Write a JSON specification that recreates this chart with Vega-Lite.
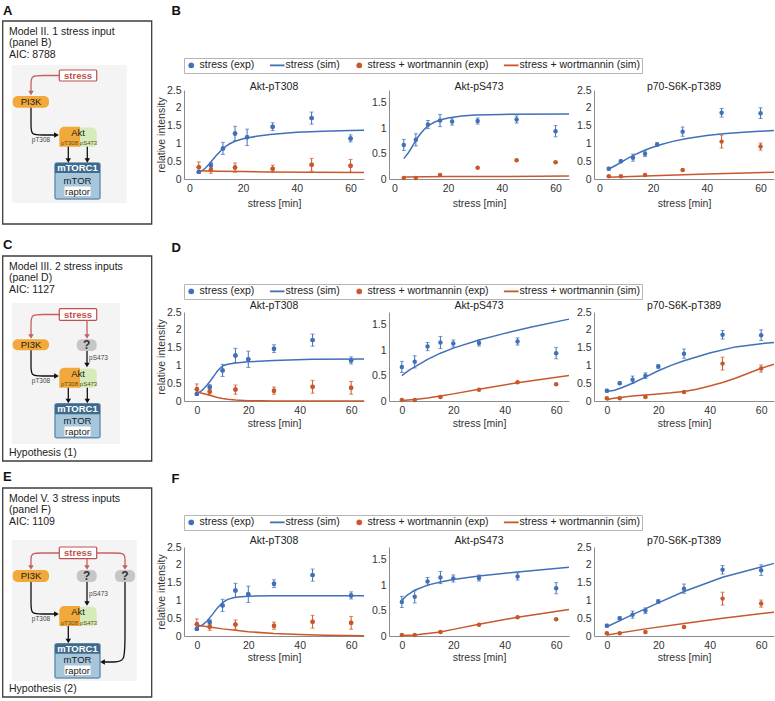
{
"$schema":"https://vega.github.io/schema/vega-lite/v6.json",
"padding":0,
"spacing":3,
"config":{
 "font":"Liberation Sans",
 "view":{"stroke":null},
 "axis":{"labelFont":"Liberation Sans","labelFontSize":10.5,"labelColor":"#333","titleFont":"Liberation Sans","titleFontSize":10.5,"titleFontWeight":"normal","titleColor":"#333","domainColor":"#8c8c8c","ticks":false,"grid":false,"labelFlush":false,"labelOverlap":false},
 "axisX":{"labelPadding":4},
 "axisY":{"labelPadding":3,"titlePadding":0},
 "title":{"font":"Liberation Sans","fontSize":10.5,"fontWeight":"normal","color":"#222","frame":"group","anchor":"middle"},
 "legend":{"title":null,"orient":"none","legendX":0,"legendY":-32,"direction":"horizontal","strokeColor":"#b5b5b5","fillColor":"#ffffff","padding":2,"labelFont":"Liberation Sans","labelFontSize":10.5,"labelColor":"#222","labelOffset":3,"columnPadding":14,"symbolSize":30,"symbolStrokeWidth":0.3,"symbolOpacity":1}
},
"datasets":{
"diag":[
{"k":"anchor","x":0,"y":0,"x2":1,"y2":1},
{"k":"frame","x":2.7,"y":21,"x2":151.7,"y2":224},
{"k":"frame","x":2.7,"y":256,"x2":151.7,"y2":461},
{"k":"frame","x":2.7,"y":488,"x2":151.7,"y2":697},
{"k":"bg","x":11.7,"y":65,"x2":126.7,"y2":203},
{"k":"bg","x":11.7,"y":303,"x2":120,"y2":444},
{"k":"bg","x":11.7,"y":540,"x2":136.7,"y2":681},
{"k":"stress","x":59.3,"y":70,"x2":96.7,"y2":81},
{"k":"stress","x":59.3,"y":308.7,"x2":96.7,"y2":320.3},
{"k":"stress","x":59.3,"y":547,"x2":96.7,"y2":558.7},
{"k":"pi3k","x":12.7,"y":96,"x2":49,"y2":107.7},
{"k":"pi3k","x":12.7,"y":339.3,"x2":49,"y2":350.3},
{"k":"pi3k","x":12.7,"y":570,"x2":49,"y2":582},
{"k":"q","x":76.7,"y":339.3,"x2":96.7,"y2":351},
{"k":"q","x":76.7,"y":570,"x2":96.7,"y2":582},
{"k":"q","x":115,"y":570,"x2":135,"y2":582},
{"k":"aktR","x":79,"y":127.5,"x2":96.7,"y2":146.7},
{"k":"aktR","x":79,"y":368.5,"x2":96.7,"y2":387.7},
{"k":"aktR","x":79,"y":606.8,"x2":96.7,"y2":626},
{"k":"aktL","x":59.3,"y":126.7,"x2":80,"y2":146.7},
{"k":"aktL","x":59.3,"y":367.7,"x2":80,"y2":387.7},
{"k":"aktL","x":59.3,"y":606,"x2":80,"y2":626},
{"k":"mbody","x":55,"y":163,"x2":100,"y2":199},
{"k":"mbody","x":55,"y":403.7,"x2":100,"y2":437.7},
{"k":"mbody","x":55,"y":643.7,"x2":100,"y2":678},
{"k":"mhead","x":55,"y":163,"x2":100,"y2":173},
{"k":"mhead","x":55,"y":403.7,"x2":100,"y2":414.3},
{"k":"mhead","x":55,"y":643.7,"x2":100,"y2":653.7},
{"k":"rbox","x":64.5,"y":186.5,"x2":90.5,"y2":196},
{"k":"rbox","x":64.5,"y":426.5,"x2":90.5,"y2":436},
{"k":"rbox","x":64.5,"y":665.5,"x2":90.5,"y2":675},
{"k":"rl","g":"A1","o":1,"x":59.3,"y":75.5},{"k":"rl","g":"A1","o":2,"x":42,"y":75.5},{"k":"rl","g":"A1","o":3,"x":31,"y":75.5},{"k":"rl","g":"A1","o":4,"x":31,"y":84},{"k":"rl","g":"A1","o":5,"x":31,"y":92.5},
{"k":"bl","g":"A2","o":1,"x":31,"y":107.7},{"k":"bl","g":"A2","o":2,"x":31,"y":126},{"k":"bl","g":"A2","o":3,"x":31,"y":135},{"k":"bl","g":"A2","o":4,"x":42,"y":135},{"k":"bl","g":"A2","o":5,"x":56,"y":135},
{"k":"bl","g":"A3","o":1,"x":68.3,"y":146.7},{"k":"bl","g":"A3","o":2,"x":68.3,"y":160},
{"k":"bl","g":"A4","o":1,"x":87.3,"y":146.7},{"k":"bl","g":"A4","o":2,"x":87.3,"y":160},
{"k":"rl","g":"C1","o":1,"x":59.3,"y":314.5},{"k":"rl","g":"C1","o":2,"x":42,"y":314.5},{"k":"rl","g":"C1","o":3,"x":31,"y":314.5},{"k":"rl","g":"C1","o":4,"x":31,"y":324},{"k":"rl","g":"C1","o":5,"x":31,"y":336},
{"k":"rl","g":"C2","o":1,"x":87,"y":320.3},{"k":"rl","g":"C2","o":2,"x":87,"y":336},
{"k":"bl","g":"C3","o":1,"x":31,"y":350.3},{"k":"bl","g":"C3","o":2,"x":31,"y":367},{"k":"bl","g":"C3","o":3,"x":31,"y":376},{"k":"bl","g":"C3","o":4,"x":42,"y":376},{"k":"bl","g":"C3","o":5,"x":56,"y":376},
{"k":"bl","g":"C4","o":1,"x":87,"y":351},{"k":"bl","g":"C4","o":2,"x":87,"y":364.5},
{"k":"bl","g":"C5","o":1,"x":68.3,"y":387.7},{"k":"bl","g":"C5","o":2,"x":68.3,"y":400.5},
{"k":"bl","g":"C6","o":1,"x":87.3,"y":387.7},{"k":"bl","g":"C6","o":2,"x":87.3,"y":400.5},
{"k":"rl","g":"E1","o":1,"x":59.3,"y":553},{"k":"rl","g":"E1","o":2,"x":42,"y":553},{"k":"rl","g":"E1","o":3,"x":31,"y":553},{"k":"rl","g":"E1","o":4,"x":31,"y":560},{"k":"rl","g":"E1","o":5,"x":31,"y":567},
{"k":"rl","g":"E2","o":1,"x":87,"y":558.7},{"k":"rl","g":"E2","o":2,"x":87,"y":567},
{"k":"rl","g":"E3","o":1,"x":96.7,"y":553},{"k":"rl","g":"E3","o":2,"x":114,"y":553},{"k":"rl","g":"E3","o":3,"x":125,"y":553},{"k":"rl","g":"E3","o":4,"x":125,"y":560},{"k":"rl","g":"E3","o":5,"x":125,"y":567},
{"k":"bl","g":"E4","o":1,"x":31,"y":582},{"k":"bl","g":"E4","o":2,"x":31,"y":605},{"k":"bl","g":"E4","o":3,"x":31,"y":614},{"k":"bl","g":"E4","o":4,"x":42,"y":614},{"k":"bl","g":"E4","o":5,"x":56,"y":614},
{"k":"bl","g":"E5","o":1,"x":87,"y":582},{"k":"bl","g":"E5","o":2,"x":87,"y":603},
{"k":"bl","g":"E6","o":1,"x":68.3,"y":626},{"k":"bl","g":"E6","o":2,"x":68.3,"y":640.5},
{"k":"bl","g":"E7","o":1,"x":125,"y":582},{"k":"bl","g":"E7","o":2,"x":125,"y":640},{"k":"bl","g":"E7","o":3,"x":125,"y":662},{"k":"bl","g":"E7","o":4,"x":114,"y":662},{"k":"bl","g":"E7","o":5,"x":103,"y":662},
{"k":"rhd","x":31,"y":93},{"k":"bhr","x":56.5,"y":135},{"k":"bhd","x":68.3,"y":160.5},{"k":"bhd","x":87.3,"y":160.5},
{"k":"rhd","x":31,"y":336.5},{"k":"rhd","x":87,"y":336.5},{"k":"bhd","x":87,"y":365},{"k":"bhr","x":56.5,"y":376},{"k":"bhd","x":68.3,"y":401},{"k":"bhd","x":87.3,"y":401},
{"k":"rhd","x":31,"y":567.5},{"k":"rhd","x":87,"y":567.5},{"k":"rhd","x":125,"y":567.5},{"k":"bhd","x":87,"y":603.5},{"k":"bhr","x":56.5,"y":614},{"k":"bhd","x":68.3,"y":641},{"k":"bhl","x":102.5,"y":662},
{"k":"tletter","x":3,"y":11,"label":"A"},{"k":"tletter","x":3,"y":245,"label":"C"},{"k":"tletter","x":3,"y":477,"label":"E"},
{"k":"ttitle","x":9,"y":31.7,"label":"Model II. 1 stress input"},{"k":"ttitle","x":9,"y":43.3,"label":"(panel B)"},{"k":"ttitle","x":9,"y":55,"label":"AIC: 8788"},
{"k":"ttitle","x":9,"y":266.7,"label":"Model III. 2 stress inputs"},{"k":"ttitle","x":9,"y":278.3,"label":"(panel D)"},{"k":"ttitle","x":9,"y":290,"label":"AIC: 1127"},{"k":"ttitle","x":9,"y":453,"label":"Hypothesis (1)"},
{"k":"ttitle","x":9,"y":498.7,"label":"Model V. 3 stress inputs"},{"k":"ttitle","x":9,"y":510.3,"label":"(panel F)"},{"k":"ttitle","x":9,"y":522,"label":"AIC: 1109"},{"k":"ttitle","x":9,"y":689,"label":"Hypothesis (2)"},
{"k":"tstress","x":78,"y":75.5,"label":"stress"},{"k":"tstress","x":78,"y":314.5,"label":"stress"},{"k":"tstress","x":78,"y":553,"label":"stress"},
{"k":"tnode","x":31,"y":102,"label":"PI3K"},{"k":"tnode","x":31,"y":345,"label":"PI3K"},{"k":"tnode","x":31,"y":576,"label":"PI3K"},
{"k":"tnode","x":78,"y":132.5,"label":"Akt"},{"k":"tnode","x":78,"y":373.5,"label":"Akt"},{"k":"tnode","x":78,"y":612,"label":"Akt"},
{"k":"tnode","x":77.5,"y":180.5,"label":"mTOR"},{"k":"tnode","x":77.5,"y":420.5,"label":"mTOR"},{"k":"tnode","x":77.5,"y":660,"label":"mTOR"},
{"k":"tnode","x":77.5,"y":191.5,"label":"raptor"},{"k":"tnode","x":77.5,"y":431.5,"label":"raptor"},{"k":"tnode","x":77.5,"y":670.5,"label":"raptor"},
{"k":"tq","x":86.7,"y":345.3,"label":"?"},{"k":"tq","x":86.7,"y":576.2,"label":"?"},{"k":"tq","x":125,"y":576.2,"label":"?"},
{"k":"tm","x":77.5,"y":168.2,"label":"mTORC1"},{"k":"tm","x":77.5,"y":409.2,"label":"mTORC1"},{"k":"tm","x":77.5,"y":648.9,"label":"mTORC1"},
{"k":"tsmall","x":69.5,"y":143,"label":"pT308"},{"k":"tsmall","x":69.5,"y":384,"label":"pT308"},{"k":"tsmall","x":69.5,"y":622.5,"label":"pT308"},
{"k":"tsmall","x":88.5,"y":143,"label":"pS473"},{"k":"tsmall","x":88.5,"y":384,"label":"pS473"},{"k":"tsmall","x":88.5,"y":622.5,"label":"pS473"},
{"k":"tlab","x":41,"y":139.5,"label":"pT308"},{"k":"tlab","x":41,"y":380.5,"label":"pT308"},{"k":"tlab","x":41,"y":618.5,"label":"pT308"},
{"k":"tlab","x":98.5,"y":357.5,"label":"pS473"},{"k":"tlab","x":98.5,"y":593.5,"label":"pS473"}
],
"exp":[
{"g":"B","p":"pT308","s":"stress (exp)","t":3.5,"v":0.2,"lo":0.17,"hi":0.23},
{"g":"B","p":"pT308","s":"stress (exp)","t":8,"v":0.39,"lo":0.32,"hi":0.46},
{"g":"B","p":"pT308","s":"stress (exp)","t":12.5,"v":0.86,"lo":0.69,"hi":1.03},
{"g":"B","p":"pT308","s":"stress (exp)","t":17,"v":1.28,"lo":1.08,"hi":1.48},
{"g":"B","p":"pT308","s":"stress (exp)","t":21.5,"v":1.17,"lo":0.94,"hi":1.4},
{"g":"B","p":"pT308","s":"stress (exp)","t":31,"v":1.47,"lo":1.36,"hi":1.58},
{"g":"B","p":"pT308","s":"stress (exp)","t":45.5,"v":1.71,"lo":1.54,"hi":1.88},
{"g":"B","p":"pT308","s":"stress (exp)","t":60,"v":1.14,"lo":1.04,"hi":1.24},
{"g":"B","p":"pT308","s":"stress + wortmannin (exp)","t":3.5,"v":0.33,"lo":0.18,"hi":0.48},
{"g":"B","p":"pT308","s":"stress + wortmannin (exp)","t":8,"v":0.26,"lo":0.16,"hi":0.36},
{"g":"B","p":"pT308","s":"stress + wortmannin (exp)","t":17,"v":0.32,"lo":0.19,"hi":0.45},
{"g":"B","p":"pT308","s":"stress + wortmannin (exp)","t":31,"v":0.29,"lo":0.19,"hi":0.39},
{"g":"B","p":"pT308","s":"stress + wortmannin (exp)","t":45.5,"v":0.4,"lo":0.22,"hi":0.58},
{"g":"B","p":"pT308","s":"stress + wortmannin (exp)","t":60,"v":0.37,"lo":0.19,"hi":0.55},
{"g":"B","p":"pS473","s":"stress (exp)","t":3.5,"v":0.67,"lo":0.56,"hi":0.78},
{"g":"B","p":"pS473","s":"stress (exp)","t":8,"v":0.77,"lo":0.65,"hi":0.89},
{"g":"B","p":"pS473","s":"stress (exp)","t":12.5,"v":1.07,"lo":0.99,"hi":1.15},
{"g":"B","p":"pS473","s":"stress (exp)","t":17,"v":1.15,"lo":1.03,"hi":1.27},
{"g":"B","p":"pS473","s":"stress (exp)","t":21.5,"v":1.13,"lo":1.06,"hi":1.2},
{"g":"B","p":"pS473","s":"stress (exp)","t":31,"v":1.14,"lo":1.08,"hi":1.2},
{"g":"B","p":"pS473","s":"stress (exp)","t":45.5,"v":1.17,"lo":1.1,"hi":1.24},
{"g":"B","p":"pS473","s":"stress (exp)","t":60,"v":0.94,"lo":0.83,"hi":1.05},
{"g":"B","p":"pS473","s":"stress + wortmannin (exp)","t":3.5,"v":0.02,"lo":0.01,"hi":0.03},
{"g":"B","p":"pS473","s":"stress + wortmannin (exp)","t":8,"v":0.02,"lo":0.01,"hi":0.03},
{"g":"B","p":"pS473","s":"stress + wortmannin (exp)","t":17,"v":0.08,"lo":0.07,"hi":0.09},
{"g":"B","p":"pS473","s":"stress + wortmannin (exp)","t":31,"v":0.22,"lo":0.21,"hi":0.23},
{"g":"B","p":"pS473","s":"stress + wortmannin (exp)","t":45.5,"v":0.37,"lo":0.36,"hi":0.38},
{"g":"B","p":"pS473","s":"stress + wortmannin (exp)","t":60,"v":0.33,"lo":0.32,"hi":0.34},
{"g":"B","p":"p70","s":"stress (exp)","t":3.5,"v":0.29,"lo":0.25,"hi":0.33},
{"g":"B","p":"p70","s":"stress (exp)","t":8,"v":0.5,"lo":0.46,"hi":0.54},
{"g":"B","p":"p70","s":"stress (exp)","t":12.5,"v":0.6,"lo":0.5,"hi":0.7},
{"g":"B","p":"p70","s":"stress (exp)","t":17,"v":0.71,"lo":0.63,"hi":0.79},
{"g":"B","p":"p70","s":"stress (exp)","t":21.5,"v":0.97,"lo":0.92,"hi":1.02},
{"g":"B","p":"p70","s":"stress (exp)","t":31,"v":1.33,"lo":1.2,"hi":1.46},
{"g":"B","p":"p70","s":"stress (exp)","t":45.5,"v":1.86,"lo":1.74,"hi":1.98},
{"g":"B","p":"p70","s":"stress (exp)","t":60,"v":1.85,"lo":1.7,"hi":2.0},
{"g":"B","p":"p70","s":"stress + wortmannin (exp)","t":3.5,"v":0.08,"lo":0.06,"hi":0.1},
{"g":"B","p":"p70","s":"stress + wortmannin (exp)","t":8,"v":0.08,"lo":0.07,"hi":0.09},
{"g":"B","p":"p70","s":"stress + wortmannin (exp)","t":17,"v":0.11,"lo":0.09,"hi":0.13},
{"g":"B","p":"p70","s":"stress + wortmannin (exp)","t":31,"v":0.25,"lo":0.23,"hi":0.27},
{"g":"B","p":"p70","s":"stress + wortmannin (exp)","t":45.5,"v":1.05,"lo":0.87,"hi":1.23},
{"g":"B","p":"p70","s":"stress + wortmannin (exp)","t":60,"v":0.91,"lo":0.81,"hi":1.01},
{"g":"DF","p":"pT308","s":"stress (exp)","t":0,"v":0.2,"lo":0.17,"hi":0.23},
{"g":"DF","p":"pT308","s":"stress (exp)","t":5,"v":0.39,"lo":0.32,"hi":0.46},
{"g":"DF","p":"pT308","s":"stress (exp)","t":10,"v":0.86,"lo":0.69,"hi":1.03},
{"g":"DF","p":"pT308","s":"stress (exp)","t":15,"v":1.28,"lo":1.08,"hi":1.48},
{"g":"DF","p":"pT308","s":"stress (exp)","t":20,"v":1.17,"lo":0.94,"hi":1.4},
{"g":"DF","p":"pT308","s":"stress (exp)","t":30,"v":1.47,"lo":1.36,"hi":1.58},
{"g":"DF","p":"pT308","s":"stress (exp)","t":45,"v":1.71,"lo":1.54,"hi":1.88},
{"g":"DF","p":"pT308","s":"stress (exp)","t":60,"v":1.14,"lo":1.04,"hi":1.24},
{"g":"DF","p":"pT308","s":"stress + wortmannin (exp)","t":0,"v":0.33,"lo":0.18,"hi":0.48},
{"g":"DF","p":"pT308","s":"stress + wortmannin (exp)","t":5,"v":0.26,"lo":0.16,"hi":0.36},
{"g":"DF","p":"pT308","s":"stress + wortmannin (exp)","t":15,"v":0.32,"lo":0.19,"hi":0.45},
{"g":"DF","p":"pT308","s":"stress + wortmannin (exp)","t":30,"v":0.29,"lo":0.19,"hi":0.39},
{"g":"DF","p":"pT308","s":"stress + wortmannin (exp)","t":45,"v":0.4,"lo":0.22,"hi":0.58},
{"g":"DF","p":"pT308","s":"stress + wortmannin (exp)","t":60,"v":0.37,"lo":0.19,"hi":0.55},
{"g":"DF","p":"pS473","s":"stress (exp)","t":0,"v":0.67,"lo":0.56,"hi":0.78},
{"g":"DF","p":"pS473","s":"stress (exp)","t":5,"v":0.77,"lo":0.65,"hi":0.89},
{"g":"DF","p":"pS473","s":"stress (exp)","t":10,"v":1.07,"lo":0.99,"hi":1.15},
{"g":"DF","p":"pS473","s":"stress (exp)","t":15,"v":1.15,"lo":1.03,"hi":1.27},
{"g":"DF","p":"pS473","s":"stress (exp)","t":20,"v":1.13,"lo":1.06,"hi":1.2},
{"g":"DF","p":"pS473","s":"stress (exp)","t":30,"v":1.14,"lo":1.08,"hi":1.2},
{"g":"DF","p":"pS473","s":"stress (exp)","t":45,"v":1.17,"lo":1.1,"hi":1.24},
{"g":"DF","p":"pS473","s":"stress (exp)","t":60,"v":0.94,"lo":0.83,"hi":1.05},
{"g":"DF","p":"pS473","s":"stress + wortmannin (exp)","t":0,"v":0.02,"lo":0.01,"hi":0.03},
{"g":"DF","p":"pS473","s":"stress + wortmannin (exp)","t":5,"v":0.02,"lo":0.01,"hi":0.03},
{"g":"DF","p":"pS473","s":"stress + wortmannin (exp)","t":15,"v":0.08,"lo":0.07,"hi":0.09},
{"g":"DF","p":"pS473","s":"stress + wortmannin (exp)","t":30,"v":0.22,"lo":0.21,"hi":0.23},
{"g":"DF","p":"pS473","s":"stress + wortmannin (exp)","t":45,"v":0.37,"lo":0.36,"hi":0.38},
{"g":"DF","p":"pS473","s":"stress + wortmannin (exp)","t":60,"v":0.33,"lo":0.32,"hi":0.34},
{"g":"DF","p":"p70","s":"stress (exp)","t":0,"v":0.29,"lo":0.25,"hi":0.33},
{"g":"DF","p":"p70","s":"stress (exp)","t":5,"v":0.5,"lo":0.46,"hi":0.54},
{"g":"DF","p":"p70","s":"stress (exp)","t":10,"v":0.6,"lo":0.5,"hi":0.7},
{"g":"DF","p":"p70","s":"stress (exp)","t":15,"v":0.71,"lo":0.63,"hi":0.79},
{"g":"DF","p":"p70","s":"stress (exp)","t":20,"v":0.97,"lo":0.92,"hi":1.02},
{"g":"DF","p":"p70","s":"stress (exp)","t":30,"v":1.33,"lo":1.2,"hi":1.46},
{"g":"DF","p":"p70","s":"stress (exp)","t":45,"v":1.86,"lo":1.74,"hi":1.98},
{"g":"DF","p":"p70","s":"stress (exp)","t":60,"v":1.85,"lo":1.7,"hi":2.0},
{"g":"DF","p":"p70","s":"stress + wortmannin (exp)","t":0,"v":0.08,"lo":0.06,"hi":0.1},
{"g":"DF","p":"p70","s":"stress + wortmannin (exp)","t":5,"v":0.08,"lo":0.07,"hi":0.09},
{"g":"DF","p":"p70","s":"stress + wortmannin (exp)","t":15,"v":0.11,"lo":0.09,"hi":0.13},
{"g":"DF","p":"p70","s":"stress + wortmannin (exp)","t":30,"v":0.25,"lo":0.23,"hi":0.27},
{"g":"DF","p":"p70","s":"stress + wortmannin (exp)","t":45,"v":1.05,"lo":0.87,"hi":1.23},
{"g":"DF","p":"p70","s":"stress + wortmannin (exp)","t":60,"v":0.91,"lo":0.81,"hi":1.01}
],
"sim":[
{"m":"B","p":"pT308","s":"stress (sim)","t":3,"v":0.2},{"m":"B","p":"pT308","s":"stress (sim)","t":4,"v":0.21},{"m":"B","p":"pT308","s":"stress (sim)","t":5,"v":0.25},{"m":"B","p":"pT308","s":"stress (sim)","t":6,"v":0.31},{"m":"B","p":"pT308","s":"stress (sim)","t":7,"v":0.39},{"m":"B","p":"pT308","s":"stress (sim)","t":8,"v":0.48},{"m":"B","p":"pT308","s":"stress (sim)","t":9,"v":0.57},{"m":"B","p":"pT308","s":"stress (sim)","t":10,"v":0.66},{"m":"B","p":"pT308","s":"stress (sim)","t":11,"v":0.74},{"m":"B","p":"pT308","s":"stress (sim)","t":12,"v":0.82},{"m":"B","p":"pT308","s":"stress (sim)","t":13,"v":0.88},{"m":"B","p":"pT308","s":"stress (sim)","t":14,"v":0.94},{"m":"B","p":"pT308","s":"stress (sim)","t":15,"v":0.99},{"m":"B","p":"pT308","s":"stress (sim)","t":17,"v":1.06},{"m":"B","p":"pT308","s":"stress (sim)","t":20,"v":1.13},{"m":"B","p":"pT308","s":"stress (sim)","t":25,"v":1.2},{"m":"B","p":"pT308","s":"stress (sim)","t":30,"v":1.25},{"m":"B","p":"pT308","s":"stress (sim)","t":40,"v":1.31},{"m":"B","p":"pT308","s":"stress (sim)","t":50,"v":1.34},{"m":"B","p":"pT308","s":"stress (sim)","t":60,"v":1.36},{"m":"B","p":"pT308","s":"stress (sim)","t":65,"v":1.37},
{"m":"B","p":"pT308","s":"stress + wortmannin (sim)","t":3,"v":0.23},{"m":"B","p":"pT308","s":"stress + wortmannin (sim)","t":10,"v":0.22},{"m":"B","p":"pT308","s":"stress + wortmannin (sim)","t":20,"v":0.21},{"m":"B","p":"pT308","s":"stress + wortmannin (sim)","t":30,"v":0.2},{"m":"B","p":"pT308","s":"stress + wortmannin (sim)","t":45,"v":0.19},{"m":"B","p":"pT308","s":"stress + wortmannin (sim)","t":65,"v":0.18},
{"m":"B","p":"pS473","s":"stress (sim)","t":3.5,"v":0.4},{"m":"B","p":"pS473","s":"stress (sim)","t":5,"v":0.5},{"m":"B","p":"pS473","s":"stress (sim)","t":6,"v":0.58},{"m":"B","p":"pS473","s":"stress (sim)","t":7,"v":0.67},{"m":"B","p":"pS473","s":"stress (sim)","t":8,"v":0.76},{"m":"B","p":"pS473","s":"stress (sim)","t":9,"v":0.84},{"m":"B","p":"pS473","s":"stress (sim)","t":10,"v":0.91},{"m":"B","p":"pS473","s":"stress (sim)","t":11,"v":0.97},{"m":"B","p":"pS473","s":"stress (sim)","t":12,"v":1.02},{"m":"B","p":"pS473","s":"stress (sim)","t":13,"v":1.06},{"m":"B","p":"pS473","s":"stress (sim)","t":15,"v":1.12},{"m":"B","p":"pS473","s":"stress (sim)","t":17,"v":1.16},{"m":"B","p":"pS473","s":"stress (sim)","t":20,"v":1.2},{"m":"B","p":"pS473","s":"stress (sim)","t":25,"v":1.24},{"m":"B","p":"pS473","s":"stress (sim)","t":30,"v":1.26},{"m":"B","p":"pS473","s":"stress (sim)","t":40,"v":1.27},{"m":"B","p":"pS473","s":"stress (sim)","t":65,"v":1.28},
{"m":"B","p":"pS473","s":"stress + wortmannin (sim)","t":3.5,"v":0.04},{"m":"B","p":"pS473","s":"stress + wortmannin (sim)","t":20,"v":0.05},{"m":"B","p":"pS473","s":"stress + wortmannin (sim)","t":40,"v":0.05},{"m":"B","p":"pS473","s":"stress + wortmannin (sim)","t":65,"v":0.06},
{"m":"B","p":"p70","s":"stress (sim)","t":3.5,"v":0.28},{"m":"B","p":"p70","s":"stress (sim)","t":6,"v":0.38},{"m":"B","p":"p70","s":"stress (sim)","t":8.5,"v":0.49},{"m":"B","p":"p70","s":"stress (sim)","t":11,"v":0.6},{"m":"B","p":"p70","s":"stress (sim)","t":13.5,"v":0.69},{"m":"B","p":"p70","s":"stress (sim)","t":16,"v":0.78},{"m":"B","p":"p70","s":"stress (sim)","t":19,"v":0.87},{"m":"B","p":"p70","s":"stress (sim)","t":23,"v":0.97},{"m":"B","p":"p70","s":"stress (sim)","t":27,"v":1.05},{"m":"B","p":"p70","s":"stress (sim)","t":32,"v":1.13},{"m":"B","p":"p70","s":"stress (sim)","t":40,"v":1.22},{"m":"B","p":"p70","s":"stress (sim)","t":46,"v":1.27},{"m":"B","p":"p70","s":"stress (sim)","t":55,"v":1.32},{"m":"B","p":"p70","s":"stress (sim)","t":65,"v":1.36},
{"m":"B","p":"p70","s":"stress + wortmannin (sim)","t":3.5,"v":0.05},{"m":"B","p":"p70","s":"stress + wortmannin (sim)","t":20,"v":0.09},{"m":"B","p":"p70","s":"stress + wortmannin (sim)","t":40,"v":0.14},{"m":"B","p":"p70","s":"stress + wortmannin (sim)","t":65,"v":0.19},
{"m":"D","p":"pT308","s":"stress (sim)","t":0,"v":0.22},{"m":"D","p":"pT308","s":"stress (sim)","t":1,"v":0.25},{"m":"D","p":"pT308","s":"stress (sim)","t":2,"v":0.3},{"m":"D","p":"pT308","s":"stress (sim)","t":3,"v":0.37},{"m":"D","p":"pT308","s":"stress (sim)","t":4,"v":0.45},{"m":"D","p":"pT308","s":"stress (sim)","t":5,"v":0.54},{"m":"D","p":"pT308","s":"stress (sim)","t":6,"v":0.64},{"m":"D","p":"pT308","s":"stress (sim)","t":7,"v":0.74},{"m":"D","p":"pT308","s":"stress (sim)","t":8,"v":0.84},{"m":"D","p":"pT308","s":"stress (sim)","t":9,"v":0.92},{"m":"D","p":"pT308","s":"stress (sim)","t":10,"v":0.98},{"m":"D","p":"pT308","s":"stress (sim)","t":11,"v":1.01},{"m":"D","p":"pT308","s":"stress (sim)","t":12,"v":1.03},{"m":"D","p":"pT308","s":"stress (sim)","t":15,"v":1.07},{"m":"D","p":"pT308","s":"stress (sim)","t":20,"v":1.1},{"m":"D","p":"pT308","s":"stress (sim)","t":30,"v":1.14},{"m":"D","p":"pT308","s":"stress (sim)","t":45,"v":1.17},{"m":"D","p":"pT308","s":"stress (sim)","t":65,"v":1.18},
{"m":"D","p":"pT308","s":"stress + wortmannin (sim)","t":0,"v":0.25},{"m":"D","p":"pT308","s":"stress + wortmannin (sim)","t":2,"v":0.22},{"m":"D","p":"pT308","s":"stress + wortmannin (sim)","t":4,"v":0.18},{"m":"D","p":"pT308","s":"stress + wortmannin (sim)","t":6,"v":0.14},{"m":"D","p":"pT308","s":"stress + wortmannin (sim)","t":8,"v":0.1},{"m":"D","p":"pT308","s":"stress + wortmannin (sim)","t":10,"v":0.07},{"m":"D","p":"pT308","s":"stress + wortmannin (sim)","t":12,"v":0.05},{"m":"D","p":"pT308","s":"stress + wortmannin (sim)","t":15,"v":0.03},{"m":"D","p":"pT308","s":"stress + wortmannin (sim)","t":20,"v":0.01},{"m":"D","p":"pT308","s":"stress + wortmannin (sim)","t":25,"v":0.005},{"m":"D","p":"pT308","s":"stress + wortmannin (sim)","t":30,"v":0},{"m":"D","p":"pT308","s":"stress + wortmannin (sim)","t":65,"v":0},
{"m":"D","p":"pS473","s":"stress (sim)","t":0,"v":0.5},{"m":"D","p":"pS473","s":"stress (sim)","t":1,"v":0.54},{"m":"D","p":"pS473","s":"stress (sim)","t":3,"v":0.61},{"m":"D","p":"pS473","s":"stress (sim)","t":5,"v":0.67},{"m":"D","p":"pS473","s":"stress (sim)","t":10,"v":0.82},{"m":"D","p":"pS473","s":"stress (sim)","t":15,"v":0.94},{"m":"D","p":"pS473","s":"stress (sim)","t":20,"v":1.04},{"m":"D","p":"pS473","s":"stress (sim)","t":30,"v":1.2},{"m":"D","p":"pS473","s":"stress (sim)","t":40,"v":1.33},{"m":"D","p":"pS473","s":"stress (sim)","t":50,"v":1.45},{"m":"D","p":"pS473","s":"stress (sim)","t":65,"v":1.61},
{"m":"D","p":"pS473","s":"stress + wortmannin (sim)","t":0,"v":0.01},{"m":"D","p":"pS473","s":"stress + wortmannin (sim)","t":5,"v":0.03},{"m":"D","p":"pS473","s":"stress + wortmannin (sim)","t":10,"v":0.06},{"m":"D","p":"pS473","s":"stress + wortmannin (sim)","t":15,"v":0.1},{"m":"D","p":"pS473","s":"stress + wortmannin (sim)","t":20,"v":0.14},{"m":"D","p":"pS473","s":"stress + wortmannin (sim)","t":30,"v":0.23},{"m":"D","p":"pS473","s":"stress + wortmannin (sim)","t":45,"v":0.36},{"m":"D","p":"pS473","s":"stress + wortmannin (sim)","t":65,"v":0.5},
{"m":"D","p":"p70","s":"stress (sim)","t":0,"v":0.27},{"m":"D","p":"p70","s":"stress (sim)","t":3,"v":0.3},{"m":"D","p":"p70","s":"stress (sim)","t":6,"v":0.38},{"m":"D","p":"p70","s":"stress (sim)","t":10,"v":0.5},{"m":"D","p":"p70","s":"stress (sim)","t":15,"v":0.67},{"m":"D","p":"p70","s":"stress (sim)","t":20,"v":0.85},{"m":"D","p":"p70","s":"stress (sim)","t":25,"v":1.0},{"m":"D","p":"p70","s":"stress (sim)","t":30,"v":1.13},{"m":"D","p":"p70","s":"stress (sim)","t":40,"v":1.35},{"m":"D","p":"p70","s":"stress (sim)","t":50,"v":1.52},{"m":"D","p":"p70","s":"stress (sim)","t":60,"v":1.61},{"m":"D","p":"p70","s":"stress (sim)","t":65,"v":1.64},
{"m":"D","p":"p70","s":"stress + wortmannin (sim)","t":0,"v":0.03},{"m":"D","p":"p70","s":"stress + wortmannin (sim)","t":2,"v":0.07},{"m":"D","p":"p70","s":"stress + wortmannin (sim)","t":5,"v":0.1},{"m":"D","p":"p70","s":"stress + wortmannin (sim)","t":10,"v":0.14},{"m":"D","p":"p70","s":"stress + wortmannin (sim)","t":15,"v":0.17},{"m":"D","p":"p70","s":"stress + wortmannin (sim)","t":20,"v":0.2},{"m":"D","p":"p70","s":"stress + wortmannin (sim)","t":25,"v":0.23},{"m":"D","p":"p70","s":"stress + wortmannin (sim)","t":30,"v":0.27},{"m":"D","p":"p70","s":"stress + wortmannin (sim)","t":35,"v":0.33},{"m":"D","p":"p70","s":"stress + wortmannin (sim)","t":40,"v":0.42},{"m":"D","p":"p70","s":"stress + wortmannin (sim)","t":45,"v":0.52},{"m":"D","p":"p70","s":"stress + wortmannin (sim)","t":50,"v":0.64},{"m":"D","p":"p70","s":"stress + wortmannin (sim)","t":55,"v":0.78},{"m":"D","p":"p70","s":"stress + wortmannin (sim)","t":60,"v":0.92},{"m":"D","p":"p70","s":"stress + wortmannin (sim)","t":65,"v":1.03},
{"m":"F","p":"pT308","s":"stress (sim)","t":0,"v":0.25},{"m":"F","p":"pT308","s":"stress (sim)","t":2,"v":0.3},{"m":"F","p":"pT308","s":"stress (sim)","t":4,"v":0.42},{"m":"F","p":"pT308","s":"stress (sim)","t":6,"v":0.6},{"m":"F","p":"pT308","s":"stress (sim)","t":8,"v":0.79},{"m":"F","p":"pT308","s":"stress (sim)","t":10,"v":0.94},{"m":"F","p":"pT308","s":"stress (sim)","t":12,"v":1.03},{"m":"F","p":"pT308","s":"stress (sim)","t":15,"v":1.09},{"m":"F","p":"pT308","s":"stress (sim)","t":20,"v":1.12},{"m":"F","p":"pT308","s":"stress (sim)","t":30,"v":1.13},{"m":"F","p":"pT308","s":"stress (sim)","t":65,"v":1.13},
{"m":"F","p":"pT308","s":"stress + wortmannin (sim)","t":0,"v":0.3},{"m":"F","p":"pT308","s":"stress + wortmannin (sim)","t":5,"v":0.25},{"m":"F","p":"pT308","s":"stress + wortmannin (sim)","t":10,"v":0.2},{"m":"F","p":"pT308","s":"stress + wortmannin (sim)","t":15,"v":0.16},{"m":"F","p":"pT308","s":"stress + wortmannin (sim)","t":20,"v":0.12},{"m":"F","p":"pT308","s":"stress + wortmannin (sim)","t":30,"v":0.07},{"m":"F","p":"pT308","s":"stress + wortmannin (sim)","t":40,"v":0.04},{"m":"F","p":"pT308","s":"stress + wortmannin (sim)","t":50,"v":0.02},{"m":"F","p":"pT308","s":"stress + wortmannin (sim)","t":65,"v":0.01},
{"m":"F","p":"pS473","s":"stress (sim)","t":0,"v":0.7},{"m":"F","p":"pS473","s":"stress (sim)","t":2,"v":0.8},{"m":"F","p":"pS473","s":"stress (sim)","t":5,"v":0.9},{"m":"F","p":"pS473","s":"stress (sim)","t":10,"v":1.0},{"m":"F","p":"pS473","s":"stress (sim)","t":15,"v":1.06},{"m":"F","p":"pS473","s":"stress (sim)","t":20,"v":1.11},{"m":"F","p":"pS473","s":"stress (sim)","t":30,"v":1.18},{"m":"F","p":"pS473","s":"stress (sim)","t":45,"v":1.26},{"m":"F","p":"pS473","s":"stress (sim)","t":65,"v":1.35},
{"m":"F","p":"pS473","s":"stress + wortmannin (sim)","t":0,"v":0.01},{"m":"F","p":"pS473","s":"stress + wortmannin (sim)","t":5,"v":0.02},{"m":"F","p":"pS473","s":"stress + wortmannin (sim)","t":10,"v":0.05},{"m":"F","p":"pS473","s":"stress + wortmannin (sim)","t":15,"v":0.08},{"m":"F","p":"pS473","s":"stress + wortmannin (sim)","t":20,"v":0.13},{"m":"F","p":"pS473","s":"stress + wortmannin (sim)","t":30,"v":0.23},{"m":"F","p":"pS473","s":"stress + wortmannin (sim)","t":45,"v":0.37},{"m":"F","p":"pS473","s":"stress + wortmannin (sim)","t":65,"v":0.52},
{"m":"F","p":"p70","s":"stress (sim)","t":0,"v":0.26},{"m":"F","p":"p70","s":"stress (sim)","t":10,"v":0.6},{"m":"F","p":"p70","s":"stress (sim)","t":20,"v":0.93},{"m":"F","p":"p70","s":"stress (sim)","t":30,"v":1.25},{"m":"F","p":"p70","s":"stress (sim)","t":45,"v":1.65},{"m":"F","p":"p70","s":"stress (sim)","t":60,"v":1.94},{"m":"F","p":"p70","s":"stress (sim)","t":65,"v":2.04},
{"m":"F","p":"p70","s":"stress + wortmannin (sim)","t":0,"v":0.03},{"m":"F","p":"p70","s":"stress + wortmannin (sim)","t":15,"v":0.2},{"m":"F","p":"p70","s":"stress + wortmannin (sim)","t":30,"v":0.35},{"m":"F","p":"p70","s":"stress + wortmannin (sim)","t":45,"v":0.5},{"m":"F","p":"p70","s":"stress + wortmannin (sim)","t":65,"v":0.67}
]
},
"hconcat":[
{
 "width":152,"height":611,
 "data":{"name":"diag"},
 "encoding":{
  "x":{"field":"x","type":"quantitative","scale":{"domain":[0,152],"nice":false,"zero":false},"axis":null},
  "y":{"field":"y","type":"quantitative","scale":{"domain":[90,701],"nice":false,"zero":false,"reverse":true},"axis":null}
 },
 "layer":[
  {"transform":[{"filter":"datum.k=='anchor'"}],"mark":{"type":"rect","fill":"#ffffff","fillOpacity":0},"encoding":{"x2":{"field":"x2"},"y2":{"field":"y2"}}},
  {"transform":[{"filter":"datum.k=='bg'"}],"mark":{"type":"rect","fill":"#f4f4f4"},"encoding":{"x2":{"field":"x2"},"y2":{"field":"y2"}}},
  {"transform":[{"filter":"datum.k=='frame'"}],"mark":{"type":"rect","fill":"#ffffff","fillOpacity":0,"stroke":"#3c3c3c","strokeWidth":1.3},"encoding":{"x2":{"field":"x2"},"y2":{"field":"y2"}}},
  {"transform":[{"filter":"datum.k=='stress'"}],"mark":{"type":"rect","fill":"#ffffff","stroke":"#c0504d","strokeWidth":1.2,"cornerRadius":1},"encoding":{"x2":{"field":"x2"},"y2":{"field":"y2"}}},
  {"transform":[{"filter":"datum.k=='pi3k'"}],"mark":{"type":"rect","fill":"#f2a93b","cornerRadius":5},"encoding":{"x2":{"field":"x2"},"y2":{"field":"y2"}}},
  {"transform":[{"filter":"datum.k=='q'"}],"mark":{"type":"rect","fill":"#c6c6c6","cornerRadius":5},"encoding":{"x2":{"field":"x2"},"y2":{"field":"y2"}}},
  {"transform":[{"filter":"datum.k=='aktR'"}],"mark":{"type":"rect","fill":"#d5ebb9","cornerRadiusTopRight":5,"cornerRadiusBottomRight":4},"encoding":{"x2":{"field":"x2"},"y2":{"field":"y2"}}},
  {"transform":[{"filter":"datum.k=='aktL'"}],"mark":{"type":"rect","fill":"#f2a93b","cornerRadiusTopLeft":5},"encoding":{"x2":{"field":"x2"},"y2":{"field":"y2"}}},
  {"transform":[{"filter":"datum.k=='mbody'"}],"mark":{"type":"rect","fill":"#a7c6db","stroke":"#6892b3","strokeWidth":1.5,"cornerRadius":2},"encoding":{"x2":{"field":"x2"},"y2":{"field":"y2"}}},
  {"transform":[{"filter":"datum.k=='mhead'"}],"mark":{"type":"rect","fill":"#3e6b8c","cornerRadiusTopLeft":2,"cornerRadiusTopRight":2},"encoding":{"x2":{"field":"x2"},"y2":{"field":"y2"}}},
  {"transform":[{"filter":"datum.k=='rbox'"}],"mark":{"type":"rect","fill":"#ffffff"},"encoding":{"x2":{"field":"x2"},"y2":{"field":"y2"}}},
  {"transform":[{"filter":"datum.k=='rl'"}],"mark":{"type":"line","color":"#c6605c","strokeWidth":1.3,"interpolate":"basis"},"encoding":{"detail":{"field":"g","type":"nominal"},"order":{"field":"o","type":"quantitative"}}},
  {"transform":[{"filter":"datum.k=='bl'"}],"mark":{"type":"line","color":"#111111","strokeWidth":1.3,"interpolate":"basis"},"encoding":{"detail":{"field":"g","type":"nominal"},"order":{"field":"o","type":"quantitative"}}},
  {"transform":[{"filter":"datum.k=='rhd'"}],"mark":{"type":"point","filled":true,"color":"#c6605c","size":30,"opacity":1,"shape":"triangle-down"}},
  {"transform":[{"filter":"datum.k=='bhd'"}],"mark":{"type":"point","filled":true,"color":"#111111","size":30,"opacity":1,"shape":"triangle-down"}},
  {"transform":[{"filter":"datum.k=='bhr'"}],"mark":{"type":"point","filled":true,"color":"#111111","size":30,"opacity":1,"shape":"triangle-right"}},
  {"transform":[{"filter":"datum.k=='bhl'"}],"mark":{"type":"point","filled":true,"color":"#111111","size":30,"opacity":1,"shape":"triangle-left"}},
  {"transform":[{"filter":"datum.k=='tletter'"}],"mark":{"type":"text","align":"left","baseline":"middle","font":"Liberation Sans","fontSize":13,"fontWeight":"bold","color":"#111"},"encoding":{"text":{"field":"label","type":"nominal"}}},
  {"transform":[{"filter":"datum.k=='ttitle'"}],"mark":{"type":"text","align":"left","baseline":"middle","font":"Liberation Sans","fontSize":10.5,"color":"#222"},"encoding":{"text":{"field":"label","type":"nominal"}}},
  {"transform":[{"filter":"datum.k=='tstress'"}],"mark":{"type":"text","align":"center","baseline":"middle","font":"Liberation Sans","fontSize":9.5,"fontWeight":"bold","color":"#c0504d"},"encoding":{"text":{"field":"label","type":"nominal"}}},
  {"transform":[{"filter":"datum.k=='tnode'"}],"mark":{"type":"text","align":"center","baseline":"middle","font":"Liberation Sans","fontSize":9.5,"color":"#1a1a1a"},"encoding":{"text":{"field":"label","type":"nominal"}}},
  {"transform":[{"filter":"datum.k=='tq'"}],"mark":{"type":"text","align":"center","baseline":"middle","font":"Liberation Sans","fontSize":12,"fontWeight":"bold","color":"#333"},"encoding":{"text":{"field":"label","type":"nominal"}}},
  {"transform":[{"filter":"datum.k=='tm'"}],"mark":{"type":"text","align":"center","baseline":"middle","font":"Liberation Sans","fontSize":9.5,"fontWeight":"bold","color":"#ffffff"},"encoding":{"text":{"field":"label","type":"nominal"}}},
  {"transform":[{"filter":"datum.k=='tsmall'"}],"mark":{"type":"text","align":"center","baseline":"middle","font":"Liberation Sans","fontSize":6,"color":"#5b4a22"},"encoding":{"text":{"field":"label","type":"nominal"}}},
  {"transform":[{"filter":"datum.k=='tlab'"}],"mark":{"type":"text","align":"center","baseline":"middle","font":"Liberation Sans","fontSize":6.5,"color":"#444"},"encoding":{"text":{"field":"label","type":"nominal"}}}
 ]
},
{
 "spacing":32,
 "resolve":{"scale":{"color":"independent","shape":"independent"}},
 "vconcat":[
  {
   "title":{"text":"B","anchor":"start","frame":"bounds","fontSize":13,"fontWeight":"bold","color":"#111","offset":40,"dx":15},
   "bounds":"flush","spacing":25,
   "hconcat":[
    {"width":180,"height":89,"title":{"text":"Akt-pT308","offset":-7},
     "encoding":{"x":{"field":"t","type":"quantitative","scale":{"domain":[-2,65],"nice":false,"zero":false},"axis":{"values":[0,20,40,60],"title":"stress [min]","titlePadding":5}},
      "color":{"field":"s","type":"nominal","scale":{"domain":["stress (exp)","stress (sim)","stress + wortmannin (exp)","stress + wortmannin (sim)"],"range":["#4170b8","#4170b8","#c8582c","#c8582c"]}}},
     "layer":[
      {"data":{"name":"exp"},"transform":[{"filter":"datum.g=='B'&&datum.p=='pT308'"}],"mark":{"type":"point","filled":true,"size":20,"opacity":1},"encoding":{"y":{"field":"v","type":"quantitative","scale":{"domain":[0,2.5],"nice":false},"axis":{"values":[0,0.5,1,1.5,2,2.5],"format":"~g","title":"relative intensity"}},"shape":{"field":"s","type":"nominal","scale":{"domain":["stress (exp)","stress (sim)","stress + wortmannin (exp)","stress + wortmannin (sim)"],"range":["circle","M-2.6,-0.27H2.6V0.27H-2.6Z","circle","M-2.6,-0.27H2.6V0.27H-2.6Z"]}}}},
      {"data":{"name":"sim"},"transform":[{"filter":"datum.m=='B'&&datum.p=='pT308'"}],"mark":{"type":"line","strokeWidth":1.5},"encoding":{"y":{"field":"v","type":"quantitative","scale":{"domain":[0,2.5],"nice":false},"axis":{"values":[0,0.5,1,1.5,2,2.5],"format":"~g","title":"relative intensity"}}}},
      {"data":{"name":"exp"},"transform":[{"filter":"datum.g=='B'&&datum.p=='pT308'"}],"mark":{"type":"rule","strokeWidth":1},"encoding":{"y":{"field":"lo","type":"quantitative","scale":{"domain":[0,2.5],"nice":false},"axis":{"values":[0,0.5,1,1.5,2,2.5],"format":"~g","title":"relative intensity"}},"y2":{"field":"hi"}}},
      {"data":{"name":"exp"},"transform":[{"filter":"datum.g=='B'&&datum.p=='pT308'"}],"mark":{"type":"tick","orient":"horizontal","size":4,"thickness":1},"encoding":{"y":{"field":"lo","type":"quantitative","scale":{"domain":[0,2.5],"nice":false},"axis":{"values":[0,0.5,1,1.5,2,2.5],"format":"~g","title":"relative intensity"}}}},
      {"data":{"name":"exp"},"transform":[{"filter":"datum.g=='B'&&datum.p=='pT308'"}],"mark":{"type":"tick","orient":"horizontal","size":4,"thickness":1},"encoding":{"y":{"field":"hi","type":"quantitative","scale":{"domain":[0,2.5],"nice":false},"axis":{"values":[0,0.5,1,1.5,2,2.5],"format":"~g","title":"relative intensity"}}}},
      {"data":{"name":"exp"},"transform":[{"filter":"datum.g=='B'&&datum.p=='pT308'"}],"mark":{"type":"point","filled":true,"size":20,"opacity":1,"shape":"circle"},"encoding":{"y":{"field":"v","type":"quantitative","scale":{"domain":[0,2.5],"nice":false},"axis":{"values":[0,0.5,1,1.5,2,2.5],"format":"~g","title":"relative intensity"}}}}
     ]},
    {"width":180,"height":89,"title":{"text":"Akt-pS473","offset":-2},
     "encoding":{"x":{"field":"t","type":"quantitative","scale":{"domain":[-2,65],"nice":false,"zero":false},"axis":{"values":[0,20,40,60],"title":"stress [min]","titlePadding":5}},
      "color":{"field":"s","type":"nominal","scale":{"domain":["stress (exp)","stress (sim)","stress + wortmannin (exp)","stress + wortmannin (sim)"],"range":["#4170b8","#4170b8","#c8582c","#c8582c"]}}},
     "layer":[
      {"data":{"name":"sim"},"transform":[{"filter":"datum.m=='B'&&datum.p=='pS473'"}],"mark":{"type":"line","strokeWidth":1.5},"encoding":{"y":{"field":"v","type":"quantitative","scale":{"domain":[0,1.75],"nice":false},"axis":{"values":[0,0.5,1,1.5],"format":"~g","title":null}}}},
      {"data":{"name":"exp"},"transform":[{"filter":"datum.g=='B'&&datum.p=='pS473'"}],"mark":{"type":"rule","strokeWidth":1},"encoding":{"y":{"field":"lo","type":"quantitative","scale":{"domain":[0,1.75],"nice":false},"axis":{"values":[0,0.5,1,1.5],"format":"~g","title":null}},"y2":{"field":"hi"}}},
      {"data":{"name":"exp"},"transform":[{"filter":"datum.g=='B'&&datum.p=='pS473'"}],"mark":{"type":"tick","orient":"horizontal","size":4,"thickness":1},"encoding":{"y":{"field":"lo","type":"quantitative","scale":{"domain":[0,1.75],"nice":false},"axis":{"values":[0,0.5,1,1.5],"format":"~g","title":null}}}},
      {"data":{"name":"exp"},"transform":[{"filter":"datum.g=='B'&&datum.p=='pS473'"}],"mark":{"type":"tick","orient":"horizontal","size":4,"thickness":1},"encoding":{"y":{"field":"hi","type":"quantitative","scale":{"domain":[0,1.75],"nice":false},"axis":{"values":[0,0.5,1,1.5],"format":"~g","title":null}}}},
      {"data":{"name":"exp"},"transform":[{"filter":"datum.g=='B'&&datum.p=='pS473'"}],"mark":{"type":"point","filled":true,"size":20,"opacity":1,"shape":"circle"},"encoding":{"y":{"field":"v","type":"quantitative","scale":{"domain":[0,1.75],"nice":false},"axis":{"values":[0,0.5,1,1.5],"format":"~g","title":null}}}}
     ]},
    {"width":180,"height":89,"title":{"text":"p70-S6K-pT389","offset":-7},
     "encoding":{"x":{"field":"t","type":"quantitative","scale":{"domain":[-2,65],"nice":false,"zero":false},"axis":{"values":[0,20,40,60],"title":"stress [min]","titlePadding":5}},
      "color":{"field":"s","type":"nominal","scale":{"domain":["stress (exp)","stress (sim)","stress + wortmannin (exp)","stress + wortmannin (sim)"],"range":["#4170b8","#4170b8","#c8582c","#c8582c"]}}},
     "layer":[
      {"data":{"name":"sim"},"transform":[{"filter":"datum.m=='B'&&datum.p=='p70'"}],"mark":{"type":"line","strokeWidth":1.5},"encoding":{"y":{"field":"v","type":"quantitative","scale":{"domain":[0,2.5],"nice":false},"axis":{"values":[0,0.5,1,1.5,2,2.5],"format":"~g","title":null}}}},
      {"data":{"name":"exp"},"transform":[{"filter":"datum.g=='B'&&datum.p=='p70'"}],"mark":{"type":"rule","strokeWidth":1},"encoding":{"y":{"field":"lo","type":"quantitative","scale":{"domain":[0,2.5],"nice":false},"axis":{"values":[0,0.5,1,1.5,2,2.5],"format":"~g","title":null}},"y2":{"field":"hi"}}},
      {"data":{"name":"exp"},"transform":[{"filter":"datum.g=='B'&&datum.p=='p70'"}],"mark":{"type":"tick","orient":"horizontal","size":4,"thickness":1},"encoding":{"y":{"field":"lo","type":"quantitative","scale":{"domain":[0,2.5],"nice":false},"axis":{"values":[0,0.5,1,1.5,2,2.5],"format":"~g","title":null}}}},
      {"data":{"name":"exp"},"transform":[{"filter":"datum.g=='B'&&datum.p=='p70'"}],"mark":{"type":"tick","orient":"horizontal","size":4,"thickness":1},"encoding":{"y":{"field":"hi","type":"quantitative","scale":{"domain":[0,2.5],"nice":false},"axis":{"values":[0,0.5,1,1.5,2,2.5],"format":"~g","title":null}}}},
      {"data":{"name":"exp"},"transform":[{"filter":"datum.g=='B'&&datum.p=='p70'"}],"mark":{"type":"point","filled":true,"size":20,"opacity":1,"shape":"circle"},"encoding":{"y":{"field":"v","type":"quantitative","scale":{"domain":[0,2.5],"nice":false},"axis":{"values":[0,0.5,1,1.5,2,2.5],"format":"~g","title":null}}}}
     ]}
   ]
  },
  {
   "spacing":43,
   "resolve":{"scale":{"color":"independent","shape":"independent"}},
   "vconcat":[
    {
     "title":{"text":"D","anchor":"start","frame":"bounds","fontSize":13,"fontWeight":"bold","color":"#111","offset":29,"dx":15},
     "bounds":"flush","spacing":25,
     "hconcat":[
      {"width":180,"height":89,"title":{"text":"Akt-pT308","offset":-4},
       "encoding":{"x":{"field":"t","type":"quantitative","scale":{"domain":[-5,65],"nice":false,"zero":false},"axis":{"values":[0,20,40,60],"title":"stress [min]","titlePadding":3}},
        "color":{"field":"s","type":"nominal","scale":{"domain":["stress (exp)","stress (sim)","stress + wortmannin (exp)","stress + wortmannin (sim)"],"range":["#4170b8","#4170b8","#c8582c","#c8582c"]},"legend":{"legendY":-28}}},
       "layer":[
        {"data":{"name":"exp"},"transform":[{"filter":"datum.g=='DF'&&datum.p=='pT308'"}],"mark":{"type":"point","filled":true,"size":20,"opacity":1},"encoding":{"y":{"field":"v","type":"quantitative","scale":{"domain":[0,2.5],"nice":false},"axis":{"values":[0,0.5,1,1.5,2,2.5],"format":"~g","title":"relative intensity"}},"shape":{"field":"s","type":"nominal","scale":{"domain":["stress (exp)","stress (sim)","stress + wortmannin (exp)","stress + wortmannin (sim)"],"range":["circle","M-2.6,-0.27H2.6V0.27H-2.6Z","circle","M-2.6,-0.27H2.6V0.27H-2.6Z"]},"legend":{"legendY":-28}}}},
        {"data":{"name":"sim"},"transform":[{"filter":"datum.m=='D'&&datum.p=='pT308'"}],"mark":{"type":"line","strokeWidth":1.5},"encoding":{"y":{"field":"v","type":"quantitative","scale":{"domain":[0,2.5],"nice":false},"axis":{"values":[0,0.5,1,1.5,2,2.5],"format":"~g","title":"relative intensity"}}}},
        {"data":{"name":"exp"},"transform":[{"filter":"datum.g=='DF'&&datum.p=='pT308'"}],"mark":{"type":"rule","strokeWidth":1},"encoding":{"y":{"field":"lo","type":"quantitative","scale":{"domain":[0,2.5],"nice":false},"axis":{"values":[0,0.5,1,1.5,2,2.5],"format":"~g","title":"relative intensity"}},"y2":{"field":"hi"}}},
        {"data":{"name":"exp"},"transform":[{"filter":"datum.g=='DF'&&datum.p=='pT308'"}],"mark":{"type":"tick","orient":"horizontal","size":4,"thickness":1},"encoding":{"y":{"field":"lo","type":"quantitative","scale":{"domain":[0,2.5],"nice":false},"axis":{"values":[0,0.5,1,1.5,2,2.5],"format":"~g","title":"relative intensity"}}}},
        {"data":{"name":"exp"},"transform":[{"filter":"datum.g=='DF'&&datum.p=='pT308'"}],"mark":{"type":"tick","orient":"horizontal","size":4,"thickness":1},"encoding":{"y":{"field":"hi","type":"quantitative","scale":{"domain":[0,2.5],"nice":false},"axis":{"values":[0,0.5,1,1.5,2,2.5],"format":"~g","title":"relative intensity"}}}},
        {"data":{"name":"exp"},"transform":[{"filter":"datum.g=='DF'&&datum.p=='pT308'"}],"mark":{"type":"point","filled":true,"size":20,"opacity":1,"shape":"circle"},"encoding":{"y":{"field":"v","type":"quantitative","scale":{"domain":[0,2.5],"nice":false},"axis":{"values":[0,0.5,1,1.5,2,2.5],"format":"~g","title":"relative intensity"}}}}
       ]},
      {"width":180,"height":89,"title":{"text":"Akt-pS473","offset":1},
       "encoding":{"x":{"field":"t","type":"quantitative","scale":{"domain":[-5,65],"nice":false,"zero":false},"axis":{"values":[0,20,40,60],"title":"stress [min]","titlePadding":3}},
        "color":{"field":"s","type":"nominal","scale":{"domain":["stress (exp)","stress (sim)","stress + wortmannin (exp)","stress + wortmannin (sim)"],"range":["#4170b8","#4170b8","#c8582c","#c8582c"]},"legend":{"legendY":-28}}},
       "layer":[
        {"data":{"name":"sim"},"transform":[{"filter":"datum.m=='D'&&datum.p=='pS473'"}],"mark":{"type":"line","strokeWidth":1.5},"encoding":{"y":{"field":"v","type":"quantitative","scale":{"domain":[0,1.75],"nice":false},"axis":{"values":[0,0.5,1,1.5],"format":"~g","title":null}}}},
        {"data":{"name":"exp"},"transform":[{"filter":"datum.g=='DF'&&datum.p=='pS473'"}],"mark":{"type":"rule","strokeWidth":1},"encoding":{"y":{"field":"lo","type":"quantitative","scale":{"domain":[0,1.75],"nice":false},"axis":{"values":[0,0.5,1,1.5],"format":"~g","title":null}},"y2":{"field":"hi"}}},
        {"data":{"name":"exp"},"transform":[{"filter":"datum.g=='DF'&&datum.p=='pS473'"}],"mark":{"type":"tick","orient":"horizontal","size":4,"thickness":1},"encoding":{"y":{"field":"lo","type":"quantitative","scale":{"domain":[0,1.75],"nice":false},"axis":{"values":[0,0.5,1,1.5],"format":"~g","title":null}}}},
        {"data":{"name":"exp"},"transform":[{"filter":"datum.g=='DF'&&datum.p=='pS473'"}],"mark":{"type":"tick","orient":"horizontal","size":4,"thickness":1},"encoding":{"y":{"field":"hi","type":"quantitative","scale":{"domain":[0,1.75],"nice":false},"axis":{"values":[0,0.5,1,1.5],"format":"~g","title":null}}}},
        {"data":{"name":"exp"},"transform":[{"filter":"datum.g=='DF'&&datum.p=='pS473'"}],"mark":{"type":"point","filled":true,"size":20,"opacity":1,"shape":"circle"},"encoding":{"y":{"field":"v","type":"quantitative","scale":{"domain":[0,1.75],"nice":false},"axis":{"values":[0,0.5,1,1.5],"format":"~g","title":null}}}}
       ]},
      {"width":180,"height":89,"title":{"text":"p70-S6K-pT389","offset":-4},
       "encoding":{"x":{"field":"t","type":"quantitative","scale":{"domain":[-5,65],"nice":false,"zero":false},"axis":{"values":[0,20,40,60],"title":"stress [min]","titlePadding":3}},
        "color":{"field":"s","type":"nominal","scale":{"domain":["stress (exp)","stress (sim)","stress + wortmannin (exp)","stress + wortmannin (sim)"],"range":["#4170b8","#4170b8","#c8582c","#c8582c"]},"legend":{"legendY":-28}}},
       "layer":[
        {"data":{"name":"sim"},"transform":[{"filter":"datum.m=='D'&&datum.p=='p70'"}],"mark":{"type":"line","strokeWidth":1.5},"encoding":{"y":{"field":"v","type":"quantitative","scale":{"domain":[0,2.5],"nice":false},"axis":{"values":[0,0.5,1,1.5,2,2.5],"format":"~g","title":null}}}},
        {"data":{"name":"exp"},"transform":[{"filter":"datum.g=='DF'&&datum.p=='p70'"}],"mark":{"type":"rule","strokeWidth":1},"encoding":{"y":{"field":"lo","type":"quantitative","scale":{"domain":[0,2.5],"nice":false},"axis":{"values":[0,0.5,1,1.5,2,2.5],"format":"~g","title":null}},"y2":{"field":"hi"}}},
        {"data":{"name":"exp"},"transform":[{"filter":"datum.g=='DF'&&datum.p=='p70'"}],"mark":{"type":"tick","orient":"horizontal","size":4,"thickness":1},"encoding":{"y":{"field":"lo","type":"quantitative","scale":{"domain":[0,2.5],"nice":false},"axis":{"values":[0,0.5,1,1.5,2,2.5],"format":"~g","title":null}}}},
        {"data":{"name":"exp"},"transform":[{"filter":"datum.g=='DF'&&datum.p=='p70'"}],"mark":{"type":"tick","orient":"horizontal","size":4,"thickness":1},"encoding":{"y":{"field":"hi","type":"quantitative","scale":{"domain":[0,2.5],"nice":false},"axis":{"values":[0,0.5,1,1.5,2,2.5],"format":"~g","title":null}}}},
        {"data":{"name":"exp"},"transform":[{"filter":"datum.g=='DF'&&datum.p=='p70'"}],"mark":{"type":"point","filled":true,"size":20,"opacity":1,"shape":"circle"},"encoding":{"y":{"field":"v","type":"quantitative","scale":{"domain":[0,2.5],"nice":false},"axis":{"values":[0,0.5,1,1.5,2,2.5],"format":"~g","title":null}}}}
       ]}
     ]
    },
    {
     "title":{"text":"F","anchor":"start","frame":"bounds","fontSize":13,"fontWeight":"bold","color":"#111","offset":29,"dx":15},
     "bounds":"flush","spacing":25,
     "hconcat":[
      {"width":180,"height":89,"title":{"text":"Akt-pT308","offset":-4},
       "encoding":{"x":{"field":"t","type":"quantitative","scale":{"domain":[-5,65],"nice":false,"zero":false},"axis":{"values":[0,20,40,60],"title":"stress [min]","titlePadding":2}},
        "color":{"field":"s","type":"nominal","scale":{"domain":["stress (exp)","stress (sim)","stress + wortmannin (exp)","stress + wortmannin (sim)"],"range":["#4170b8","#4170b8","#c8582c","#c8582c"]}}},
       "layer":[
        {"data":{"name":"exp"},"transform":[{"filter":"datum.g=='DF'&&datum.p=='pT308'"}],"mark":{"type":"point","filled":true,"size":20,"opacity":1},"encoding":{"y":{"field":"v","type":"quantitative","scale":{"domain":[0,2.5],"nice":false},"axis":{"values":[0,0.5,1,1.5,2,2.5],"format":"~g","title":"relative intensity"}},"shape":{"field":"s","type":"nominal","scale":{"domain":["stress (exp)","stress (sim)","stress + wortmannin (exp)","stress + wortmannin (sim)"],"range":["circle","M-2.6,-0.27H2.6V0.27H-2.6Z","circle","M-2.6,-0.27H2.6V0.27H-2.6Z"]}}}},
        {"data":{"name":"sim"},"transform":[{"filter":"datum.m=='F'&&datum.p=='pT308'"}],"mark":{"type":"line","strokeWidth":1.5},"encoding":{"y":{"field":"v","type":"quantitative","scale":{"domain":[0,2.5],"nice":false},"axis":{"values":[0,0.5,1,1.5,2,2.5],"format":"~g","title":"relative intensity"}}}},
        {"data":{"name":"exp"},"transform":[{"filter":"datum.g=='DF'&&datum.p=='pT308'"}],"mark":{"type":"rule","strokeWidth":1},"encoding":{"y":{"field":"lo","type":"quantitative","scale":{"domain":[0,2.5],"nice":false},"axis":{"values":[0,0.5,1,1.5,2,2.5],"format":"~g","title":"relative intensity"}},"y2":{"field":"hi"}}},
        {"data":{"name":"exp"},"transform":[{"filter":"datum.g=='DF'&&datum.p=='pT308'"}],"mark":{"type":"tick","orient":"horizontal","size":4,"thickness":1},"encoding":{"y":{"field":"lo","type":"quantitative","scale":{"domain":[0,2.5],"nice":false},"axis":{"values":[0,0.5,1,1.5,2,2.5],"format":"~g","title":"relative intensity"}}}},
        {"data":{"name":"exp"},"transform":[{"filter":"datum.g=='DF'&&datum.p=='pT308'"}],"mark":{"type":"tick","orient":"horizontal","size":4,"thickness":1},"encoding":{"y":{"field":"hi","type":"quantitative","scale":{"domain":[0,2.5],"nice":false},"axis":{"values":[0,0.5,1,1.5,2,2.5],"format":"~g","title":"relative intensity"}}}},
        {"data":{"name":"exp"},"transform":[{"filter":"datum.g=='DF'&&datum.p=='pT308'"}],"mark":{"type":"point","filled":true,"size":20,"opacity":1,"shape":"circle"},"encoding":{"y":{"field":"v","type":"quantitative","scale":{"domain":[0,2.5],"nice":false},"axis":{"values":[0,0.5,1,1.5,2,2.5],"format":"~g","title":"relative intensity"}}}}
       ]},
      {"width":180,"height":89,"title":{"text":"Akt-pS473","offset":1},
       "encoding":{"x":{"field":"t","type":"quantitative","scale":{"domain":[-5,65],"nice":false,"zero":false},"axis":{"values":[0,20,40,60],"title":"stress [min]","titlePadding":2}},
        "color":{"field":"s","type":"nominal","scale":{"domain":["stress (exp)","stress (sim)","stress + wortmannin (exp)","stress + wortmannin (sim)"],"range":["#4170b8","#4170b8","#c8582c","#c8582c"]}}},
       "layer":[
        {"data":{"name":"sim"},"transform":[{"filter":"datum.m=='F'&&datum.p=='pS473'"}],"mark":{"type":"line","strokeWidth":1.5},"encoding":{"y":{"field":"v","type":"quantitative","scale":{"domain":[0,1.75],"nice":false},"axis":{"values":[0,0.5,1,1.5],"format":"~g","title":null}}}},
        {"data":{"name":"exp"},"transform":[{"filter":"datum.g=='DF'&&datum.p=='pS473'"}],"mark":{"type":"rule","strokeWidth":1},"encoding":{"y":{"field":"lo","type":"quantitative","scale":{"domain":[0,1.75],"nice":false},"axis":{"values":[0,0.5,1,1.5],"format":"~g","title":null}},"y2":{"field":"hi"}}},
        {"data":{"name":"exp"},"transform":[{"filter":"datum.g=='DF'&&datum.p=='pS473'"}],"mark":{"type":"tick","orient":"horizontal","size":4,"thickness":1},"encoding":{"y":{"field":"lo","type":"quantitative","scale":{"domain":[0,1.75],"nice":false},"axis":{"values":[0,0.5,1,1.5],"format":"~g","title":null}}}},
        {"data":{"name":"exp"},"transform":[{"filter":"datum.g=='DF'&&datum.p=='pS473'"}],"mark":{"type":"tick","orient":"horizontal","size":4,"thickness":1},"encoding":{"y":{"field":"hi","type":"quantitative","scale":{"domain":[0,1.75],"nice":false},"axis":{"values":[0,0.5,1,1.5],"format":"~g","title":null}}}},
        {"data":{"name":"exp"},"transform":[{"filter":"datum.g=='DF'&&datum.p=='pS473'"}],"mark":{"type":"point","filled":true,"size":20,"opacity":1,"shape":"circle"},"encoding":{"y":{"field":"v","type":"quantitative","scale":{"domain":[0,1.75],"nice":false},"axis":{"values":[0,0.5,1,1.5],"format":"~g","title":null}}}}
       ]},
      {"width":180,"height":89,"title":{"text":"p70-S6K-pT389","offset":-4},
       "encoding":{"x":{"field":"t","type":"quantitative","scale":{"domain":[-5,65],"nice":false,"zero":false},"axis":{"values":[0,20,40,60],"title":"stress [min]","titlePadding":2}},
        "color":{"field":"s","type":"nominal","scale":{"domain":["stress (exp)","stress (sim)","stress + wortmannin (exp)","stress + wortmannin (sim)"],"range":["#4170b8","#4170b8","#c8582c","#c8582c"]}}},
       "layer":[
        {"data":{"name":"sim"},"transform":[{"filter":"datum.m=='F'&&datum.p=='p70'"}],"mark":{"type":"line","strokeWidth":1.5},"encoding":{"y":{"field":"v","type":"quantitative","scale":{"domain":[0,2.5],"nice":false},"axis":{"values":[0,0.5,1,1.5,2,2.5],"format":"~g","title":null}}}},
        {"data":{"name":"exp"},"transform":[{"filter":"datum.g=='DF'&&datum.p=='p70'"}],"mark":{"type":"rule","strokeWidth":1},"encoding":{"y":{"field":"lo","type":"quantitative","scale":{"domain":[0,2.5],"nice":false},"axis":{"values":[0,0.5,1,1.5,2,2.5],"format":"~g","title":null}},"y2":{"field":"hi"}}},
        {"data":{"name":"exp"},"transform":[{"filter":"datum.g=='DF'&&datum.p=='p70'"}],"mark":{"type":"tick","orient":"horizontal","size":4,"thickness":1},"encoding":{"y":{"field":"lo","type":"quantitative","scale":{"domain":[0,2.5],"nice":false},"axis":{"values":[0,0.5,1,1.5,2,2.5],"format":"~g","title":null}}}},
        {"data":{"name":"exp"},"transform":[{"filter":"datum.g=='DF'&&datum.p=='p70'"}],"mark":{"type":"tick","orient":"horizontal","size":4,"thickness":1},"encoding":{"y":{"field":"hi","type":"quantitative","scale":{"domain":[0,2.5],"nice":false},"axis":{"values":[0,0.5,1,1.5,2,2.5],"format":"~g","title":null}}}},
        {"data":{"name":"exp"},"transform":[{"filter":"datum.g=='DF'&&datum.p=='p70'"}],"mark":{"type":"point","filled":true,"size":20,"opacity":1,"shape":"circle"},"encoding":{"y":{"field":"v","type":"quantitative","scale":{"domain":[0,2.5],"nice":false},"axis":{"values":[0,0.5,1,1.5,2,2.5],"format":"~g","title":null}}}}
       ]}
     ]
    }
   ]
  }
 ]
}
]
}
